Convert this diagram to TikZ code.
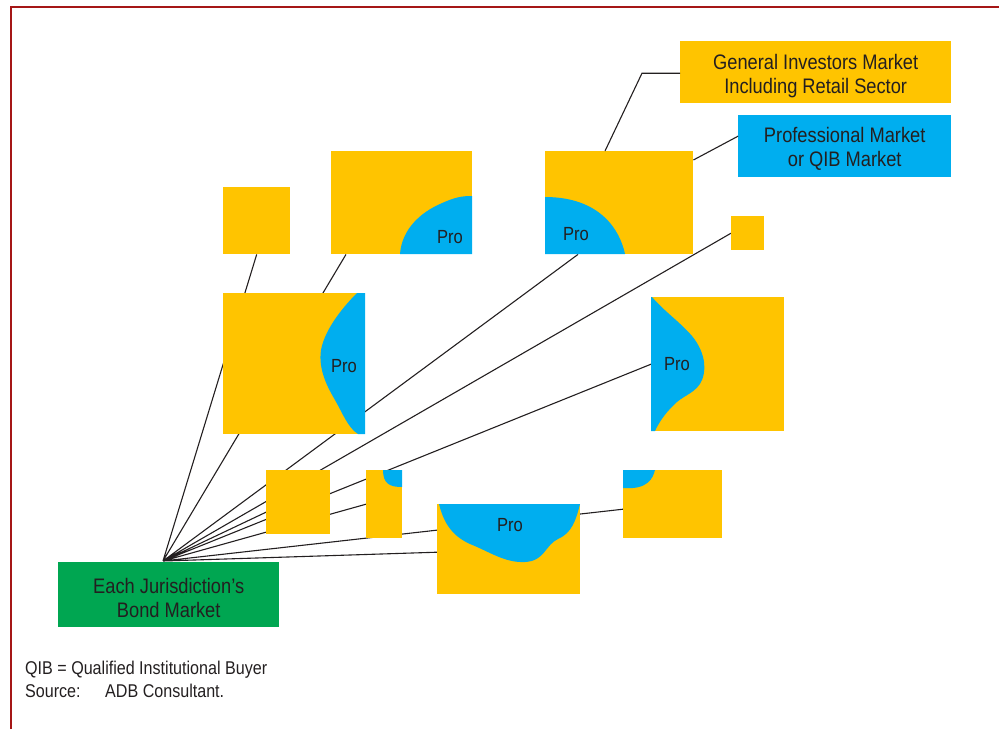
\documentclass[tikz,border=0pt]{standalone}
\usepackage{fontspec}
\setmainfont{Liberation Sans}[FakeStretch=0.87]
\usetikzlibrary{calc,backgrounds}

\definecolor{gold}{RGB}{255,196,0}
\definecolor{qibblue}{RGB}{0,174,239}
\definecolor{bondgreen}{RGB}{0,166,81}
\definecolor{ink}{RGB}{35,31,32}
\definecolor{frame}{RGB}{165,22,22}

% two centred lines, pushed down by half of the first argument
\newcommand{\twoline}[3][7pt]{\raisebox{0pt}[\dimexpr\height+#1\relax][\depth]{\begin{tabular}{@{}c@{}}#2\\#3\end{tabular}}}

\tikzset{
  mkt/.style={fill=gold, inner sep=0pt, anchor=north west},
  lbl/.style={text=ink, font=\fontsize{21}{24}\selectfont},
  pro/.style={text=ink, font=\fontsize{19}{22}\selectfont},
  note/.style={anchor=west, inner sep=0pt, text=ink, font=\fontsize{18.5}{21}\selectfont},
  link/.style={draw=ink, line width=1.1pt}
}

\begin{document}
\begin{tikzpicture}[x=1pt,y=-1pt]
  \useasboundingbox (0,0) rectangle (999,729);
  \draw[frame, line width=1.8pt] (10.8,729) -- (10.8,6.8) -- (999,6.8);

  % legend boxes
  \node[mkt, lbl, minimum width=271, minimum height=62] (gen) at (680,41)
    {\twoline[8pt]{General Investors Market}{Including Retail Sector}};
  \node[mkt, lbl, fill=qibblue, minimum width=213, minimum height=62] (prof) at (738,115)
    {\twoline[6pt]{Professional Market}{or QIB Market}};
  \node[mkt, lbl, fill=bondgreen, minimum width=221, minimum height=65] (bond) at (58,562)
    {\twoline[12pt]{Each Jurisdiction's}{Bond Market}};
  \coordinate (hub) at (163,561);

  % markets
  \node[mkt, minimum width=67, minimum height=67] (A) at (223,187) {};
  \node[mkt, minimum width=141, minimum height=103] (B) at (331,151) {};
  \node[mkt, minimum width=148, minimum height=103] (C) at (545,151) {};
  \node[mkt, minimum width=33, minimum height=34] (D) at (731,216) {};
  \node[mkt, minimum width=142, minimum height=141] (E) at (223,293) {};
  \node[mkt, minimum width=133, minimum height=134] (F) at (651,297) {};
  \node[mkt, minimum width=64, minimum height=64] (G) at (266,470) {};
  \node[mkt, minimum width=36, minimum height=68] (H) at (366,470) {};
  \node[mkt, minimum width=143, minimum height=90] (I) at (437,504) {};
  \node[mkt, minimum width=99, minimum height=68] (J) at (623,470) {};

  % professional parts
  \fill[qibblue] (400,254) .. controls (402,228) and (422,212) .. (440,204)
    .. controls (455,197) and (462,196) .. (472,196) -- (472,254) -- cycle;
  \fill[qibblue] (545,197) .. controls (600,197) and (620,230) .. (625,254)
    -- (545,254) -- cycle;
  \fill[qibblue] (357,293) .. controls (345,305) and (325,328) .. (321,350)
    .. controls (318,370) and (328,388) .. (335,400)
    .. controls (342,412) and (348,428) .. (358,434) -- (365,434) -- (365,293) -- cycle;
  \fill[qibblue] (652,297) .. controls (665,312) and (680,322) .. (692,336)
    .. controls (702,348) and (708,365) .. (702,380)
    .. controls (697,392) and (685,395) .. (677,402)
    .. controls (668,410) and (660,420) .. (655,431) -- (651,431) -- (651,297) -- cycle;
  \fill[qibblue] (383,470) .. controls (383,484) and (390,487) .. (402,487) -- (402,470) -- cycle;
  \fill[qibblue] (439,504) .. controls (443,520) and (450,535) .. (470,544)
    .. controls (490,552) and (505,563) .. (525,562)
    .. controls (545,561) and (545,545) .. (558,539)
    .. controls (572,533) and (576,520) .. (580,504) -- cycle;
  \fill[qibblue] (623,488) .. controls (648,490) and (653,478) .. (655,470) -- (623,470) -- cycle;

  \node[pro] (pB) at (450,237) {Pro};
  \node[pro] (pC) at (576,234) {Pro};
  \node[pro] (pE) at (344,366) {Pro};
  \node[pro] (pF) at (677,364) {Pro};
  \node[pro] (pI) at (510,525) {Pro};

  % connectors
  \begin{scope}[on background layer]
    \path[link] (hub) -- (A.south)
                (hub) -- ($(B.south west)+(15,0)$)
                (hub) -- ($(C.south west)+(33,0)$)
                (hub) -- (D.west)
                (hub) -- (F.west)
                (hub) -- ($(G.west)+(0,10)$)
                (hub) -- (H.west)
                (hub) -- ($(J.west)+(0,5)$)
                (hub) -- ($(I.west)+(0,3)$);
  \end{scope}
  \draw[link] ($(C.north west)+(60,0)$) -- ($(gen.west)+(-38,1)$) -- ($(gen.west)+(0,1)$);
  \draw[link] ($(C.north east)+(0,9)$) -- ($(prof.west)+(0,-10)$);

  % notes
  \node[note] (qib) at (25,670) {QIB = Qualified Institutional Buyer};
  \node[note] (src) at (25,691) {\makebox[80pt][l]{Source:}ADB Consultant.};
\end{tikzpicture}
\end{document}
